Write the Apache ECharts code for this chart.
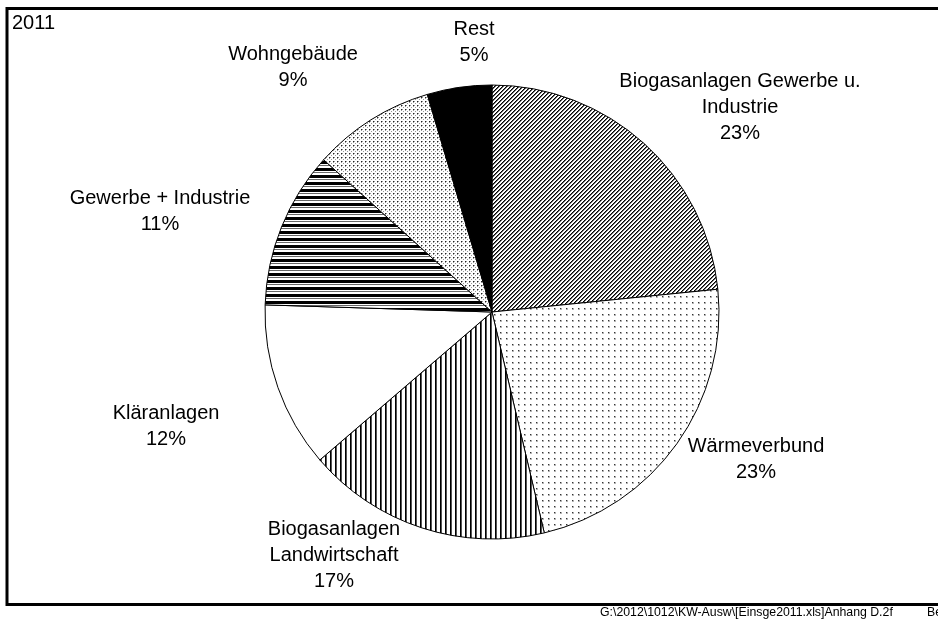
<!DOCTYPE html>
<html>
<head>
<meta charset="utf-8">
<script src="https://cdn.jsdelivr.net/npm/echarts@6/dist/echarts.min.js"></script>
<style>
  html, body { margin: 0; padding: 0; background: #fff; }
  #chart { width: 938px; height: 621px; }
</style>
</head>
<body>
<div id="chart"></div>
<script>
// data (clockwise from 12 o'clock)
const sectors = [
  'Biogasanlagen Gewerbe u.\nIndustrie',
  'Wärmeverbund',
  'Biogasanlagen\nLandwirtschaft',
  'Kläranlagen',
  'Gewerbe + Industrie',
  'Wohngebäude',
  'Rest',
]
const shares = [23.4, 22.9, 17.4, 11.8, 11.2, 8.7, 4.6]
const year = '2011'
const footer = 'G:\\2012\\1012\\KW-Ausw\\[Einsge2011.xls]Anhang D.2f'
const footerCut = 'Ber'

const FONT = '"Liberation Sans", Arial, sans-serif'

// small canvas tiles for the black/white hatchings
function tile(w, h, draw) {
  const c = document.createElement('canvas')
  c.width = w
  c.height = h
  const g = c.getContext('2d')
  g.fillStyle = '#fff'
  g.fillRect(0, 0, w, h)
  draw(g, w, h)
  return { image: c, repeat: 'repeat' }
}

function px(g, x, y, col) {
  g.fillStyle = col
  g.fillRect(x, y, 1, 1)
}

const diagonal = tile(4, 4, (g, w, h) => {
  for (let y = 0; y < h; y++) {
    for (let x = 0; x < w; x++) {
      const k = (x + y) % 4
      if (k === 0) px(g, x, y, '#000')
      if (k === 1) px(g, x, y, '#666')
    }
  }
})

const sparseDots = tile(6, 6, g => {
  px(g, 2, 2, '#333')
  px(g, 3, 2, '#aaa')
  px(g, 2, 3, '#aaa')
  px(g, 3, 3, '#bbb')
})

const vertical = tile(5, 1, g => {
  px(g, 0, 0, '#000')
  px(g, 1, 0, '#555')
})

const horizontal = tile(1, 7, g => {
  px(g, 0, 0, '#000')
  px(g, 0, 1, '#000')
  px(g, 0, 2, '#000')
  px(g, 0, 4, '#666')
})

const denseDots = tile(4, 4, g => {
  px(g, 1, 1, '#222')
  px(g, 2, 1, '#999')
  px(g, 1, 2, '#999')
  px(g, 3, 3, '#999')
})

const fills = [diagonal, sparseDots, vertical, '#fff', horizontal, denseDots, '#000']

// where Excel put each label (text block centres)
const labelAt = [[740, 107], [756, 459], [334, 555], [166, 426], [160, 211], [293, 67], [474, 42]]

const chart = echarts.init(document.getElementById('chart'))

chart.setOption({
  backgroundColor: '#fff',
  animation: false,
  graphic: [
    {
      type: 'rect',
      shape: { x: 7, y: 8.5, width: 940, height: 596 },
      style: { fill: 'none', stroke: '#000', lineWidth: 3 },
    },
    {
      type: 'text',
      left: 12,
      top: 13,
      style: { text: year, font: '20px ' + FONT, fill: '#000' },
    },
    {
      type: 'text',
      x: 600,
      y: 613,
      style: { text: footer, font: '12.3px ' + FONT, fill: '#000', verticalAlign: 'middle' },
    },
    {
      type: 'text',
      x: 927,
      y: 613,
      style: { text: footerCut, font: '12.3px ' + FONT, fill: '#000', verticalAlign: 'middle' },
    },
  ],
  series: [{
    type: 'pie',
    center: [492, 312],
    radius: 227,
    startAngle: 90,
    clockwise: true,
    avoidLabelOverlap: false,
    silent: true,
    itemStyle: { borderColor: '#000', borderWidth: 1 },
    label: {
      show: true,
      position: 'outside',
      color: '#000',
      fontFamily: FONT,
      fontSize: 20,
      lineHeight: 26,
      align: 'center',
      formatter: p => p.name + '\n' + Math.round(p.percent) + '%',
    },
    labelLine: { show: false },
    labelLayout: p => ({
      x: labelAt[p.dataIndex][0],
      y: labelAt[p.dataIndex][1],
      align: 'center',
      verticalAlign: 'middle',
    }),
    data: sectors.map((name, i) => ({
      name,
      value: shares[i],
      itemStyle: { color: fills[i] },
    })),
  }],
})
</script>
</body>
</html>
